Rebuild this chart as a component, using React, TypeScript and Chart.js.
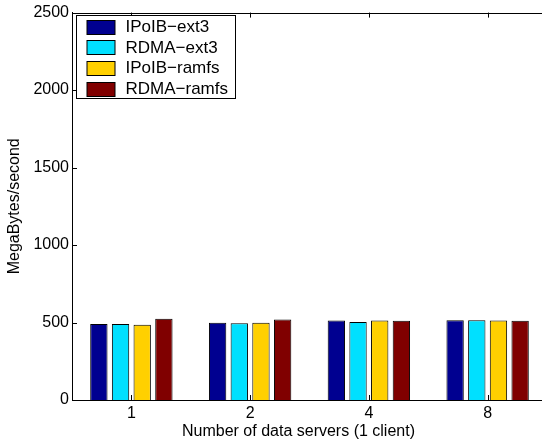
import React, { useEffect, useRef } from "react";
import { Chart, registerables } from "chart.js";

Chart.register(...registerables);

// Throughput per configuration, grouped by number of data servers
const servers = ["1", "2", "4", "8"];
const ipoibExt3 = [491, 498, 513, 515];
const rdmaExt3 = [491, 496, 503, 515];
const ipoibRamfs = [485, 498, 513, 513];
const rdmaRamfs = [524, 519, 511, 511];

const seriesNames = ["IPoIB−ext3", "RDMA−ext3", "IPoIB−ramfs", "RDMA−ramfs"];
const seriesColors = ["#000090", "#00E0FF", "#FFD000", "#800000"];

const yTicks = [0, 500, 1000, 1500, 2000, 2500];
const xTitle = "Number of data servers (1 client)";
const yTitle = "MegaBytes/second";

const FONT = "'Liberation Sans', Arial, Helvetica, sans-serif";
const FONT_SIZE = 16;
const LEGEND_FONT_SIZE = 17;
const TICK_LEN = 5;

// Draws the MATLAB-style frame: inward ticks, top border, axis titles and boxed legend
const framePlugin = {
  id: "frame",
  afterDraw(chart: any) {
    const { ctx, chartArea, scales } = chart;
    const { left, right, top, bottom } = chartArea;
    ctx.save();
    ctx.strokeStyle = "#000";
    ctx.lineWidth = 1;

    // top border
    ctx.beginPath();
    ctx.moveTo(left, Math.round(top) + 0.5);
    ctx.lineTo(right, Math.round(top) + 0.5);
    ctx.stroke();

    // x ticks, pointing into the plot from bottom and top
    const xs = scales.x;
    for (let i = 0; i < servers.length; i++) {
      const px = Math.round(xs.getPixelForTick(i)) + 0.5;
      ctx.beginPath();
      ctx.moveTo(px, bottom);
      ctx.lineTo(px, bottom - TICK_LEN);
      ctx.moveTo(px, top);
      ctx.lineTo(px, top + TICK_LEN);
      ctx.stroke();
    }
    // y ticks, pointing into the plot from the left
    const ys = scales.y;
    for (const v of yTicks) {
      const py = Math.round(ys.getPixelForValue(v)) + 0.5;
      ctx.beginPath();
      ctx.moveTo(left, py);
      ctx.lineTo(left + TICK_LEN, py);
      ctx.stroke();
    }

    // axis titles
    ctx.fillStyle = "#000";
    ctx.font = `${FONT_SIZE}px ${FONT}`;
    ctx.textAlign = "center";
    ctx.textBaseline = "middle";
    ctx.fillText(xTitle, 298.5, 432);
    ctx.save();
    ctx.translate(15, (top + bottom) / 2);
    ctx.rotate(-Math.PI / 2);
    ctx.fillText(yTitle, 0, 0);
    ctx.restore();

    // legend box
    const lx = 76.5;
    const ly = 15.5;
    const lw = 159;
    const lh = 83;
    ctx.fillStyle = "#fff";
    ctx.fillRect(lx, ly, lw, lh);
    ctx.strokeRect(lx, ly, lw, lh);
    const rowGap = 20.7;
    ctx.font = `${LEGEND_FONT_SIZE}px ${FONT}`;
    chart.data.datasets.forEach((ds: any, i: number) => {
      const cy = 26.7 + i * rowGap;
      ctx.fillStyle = ds.backgroundColor;
      ctx.fillRect(87, Math.round(cy - 7) + 0.5, 28, 14);
      ctx.strokeStyle = "#000";
      ctx.strokeRect(87, Math.round(cy - 7) + 0.5, 28, 14);
      ctx.fillStyle = "#000";
      ctx.textAlign = "left";
      ctx.textBaseline = "middle";
      ctx.fillText(ds.label, 125.5, cy + 0.5);
    });
    ctx.restore();
  },
};

export default function App() {
  const canvasRef = useRef<HTMLCanvasElement | null>(null);

  useEffect(() => {
    const canvas = canvasRef.current;
    if (!canvas) return;
    const values = [ipoibExt3, rdmaExt3, ipoibRamfs, rdmaRamfs];
    const chart = new Chart(canvas, {
      type: "bar",
      data: {
        labels: servers,
        datasets: values.map((data, i) => ({
          label: seriesNames[i],
          data,
          backgroundColor: seriesColors[i],
          borderColor: "#000",
          borderWidth: 1,
          categoryPercentage: 0.73,
          barPercentage: 0.8,
        })),
      },
      options: {
        responsive: false,
        animation: false,
        devicePixelRatio: 1,
        layout: { padding: { top: 9, right: 13, left: 0, bottom: 0 } },
        plugins: {
          legend: { display: false },
          tooltip: { enabled: false },
        },
        scales: {
          x: {
            type: "category",
            offset: true,
            grid: { display: false, drawTicks: false },
            border: { display: true, color: "#000", width: 1 },
            ticks: {
              color: "#000",
              font: { family: FONT, size: FONT_SIZE },
              padding: 4,
              maxRotation: 0,
            },
            afterFit: (s: any) => {
              s.height = 46;
            },
          },
          y: {
            min: 0,
            max: 2500,
            grid: { display: false, drawTicks: false },
            border: { display: true, color: "#000", width: 1 },
            ticks: {
              stepSize: 500,
              color: "#000",
              font: { family: FONT, size: FONT_SIZE },
              padding: 3,
              callback: (v: any) => String(v),
            },
            afterFit: (s: any) => {
              s.width = 72;
            },
          },
        },
      },
      plugins: [framePlugin],
    });
    return () => chart.destroy();
  }, []);

  return (
    <div
      style={{
        position: "fixed",
        left: 0,
        top: 0,
        width: 542,
        height: 446,
        overflow: "hidden",
        background: "#fff",
      }}
    >
      <canvas ref={canvasRef} width={560} height={446} style={{ display: "block" }} />
    </div>
  );
}
